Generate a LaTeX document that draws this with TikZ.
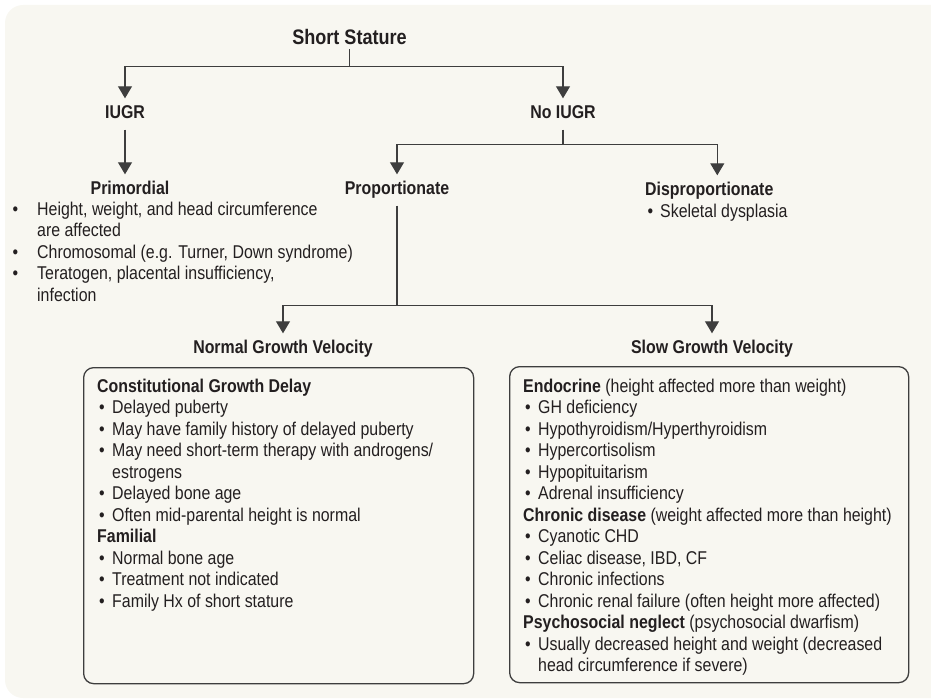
\documentclass[tikz,border=0pt]{standalone}
\usepackage{fontspec}
\setmainfont[FakeStretch=0.86]{Liberation Sans}
\usetikzlibrary{arrows.meta,positioning}
\definecolor{paper}{RGB}{248,247,241}
\definecolor{ink}{RGB}{35,31,32}
\definecolor{rule}{RGB}{62,62,62}
\newcommand{\bu}[1][15pt]{\makebox[#1][l]{\hspace{2pt}\textbullet}}
\newcommand{\cn}[1][15pt]{\hspace*{#1}}
\tikzset{
  head/.style     = {font=\fontsize{18.5}{21.5}\selectfont\bfseries, text=ink,
                     inner xsep=0pt, inner ysep=7pt, text height=13pt, text depth=4pt},
  toptitle/.style = {head, font=\fontsize{21}{24}\selectfont\bfseries,
                     inner ysep=0pt, text height=15pt, text depth=4.5pt},
  list/.style     = {font=\fontsize{18.5}{21.5}\selectfont, text=ink, align=left,
                     inner sep=0pt, anchor=north west, execute at begin node=\strut},
  panel/.style    = {draw=rule, line width=1.3pt, rounded corners=10pt,
                     anchor=north west, inner sep=0pt},
  wire/.style     = {draw=rule, line width=1.2pt},
  arr/.style      = {wire, -{Triangle[width=14pt,length=12pt]}},
}

\begin{document}
\begin{tikzpicture}[x=1pt,y=-1pt]
  \useasboundingbox (0,0) rectangle (931,700);
  \fill[paper, rounded corners=18pt] (5,5) rectangle (960,698);

  \node[toptitle, anchor=base] (short) at (349.5,44.5) {Short Stature};
  \node[head, anchor=base] (iugr) at (125,118.5) {IUGR};
  \node[head, anchor=base] (noiugr) at (563,118.5) {No IUGR};
  \node[head, anchor=base] (prim) at (130,194.5) {Primordial};
  \node[head, anchor=base] (prop) at (397,194.5) {Proportionate};
  \node[head, anchor=base west] (disp) at (645,195.5) {Disproportionate};
  \node[head, anchor=base] (ngv) at (283,353.5) {Normal Growth Velocity};
  \node[head, anchor=base] (sgv) at (712,353.5) {Slow Growth Velocity};

  \node[list] (primlist) at (10.5,201.5) {\bu[26.5pt]Height, weight, and head circumference\\
    \cn[26.5pt]are affected\\
    \bu[26.5pt]Chromosomal (e.g. Turner, Down syndrome)\\
    \bu[26.5pt]Teratogen, placental insufficiency,\\
    \cn[26.5pt]infection};
  \node[list, anchor=base west] (displist) at (645.5,217.5) {\bu[14.5pt]Skeletal dysplasia};

  \node[panel, minimum width=390pt, minimum height=316pt] (nbox) at (83,367) {};
  \node[panel, minimum width=399pt, minimum height=316pt] (sbox) at (509,366) {};

  \node[list] (nlist) at ([shift={(14,11.5)}]nbox.north west) {\textbf{Constitutional Growth Delay}\\
    \bu Delayed puberty\\
    \bu May have family history of delayed puberty\\
    \bu May need short-term therapy with androgens/\\
    \cn estrogens\\
    \bu Delayed bone age\\
    \bu Often mid-parental height is normal\\
    \textbf{Familial}\\
    \bu Normal bone age\\
    \bu Treatment not indicated\\
    \bu Family Hx of short stature};
  \node[list] (slist) at ([shift={(14,12.5)}]sbox.north west) {\textbf{Endocrine} (height affected more than weight)\\
    \bu GH deficiency\\
    \bu Hypothyroidism/Hyperthyroidism\\
    \bu Hypercortisolism\\
    \bu Hypopituitarism\\
    \bu Adrenal insufficiency\\
    \textbf{Chronic disease} (weight affected more than height)\\
    \bu Cyanotic CHD\\
    \bu Celiac disease, IBD, CF\\
    \bu Chronic infections\\
    \bu Chronic renal failure (often height more affected)\\
    \textbf{Psychosocial neglect} (psychosocial dwarfism)\\
    \bu Usually decreased height and weight (decreased\\
    \cn head circumference if severe)};

  \draw[wire] (short.south) -- ++(0,17) coordinate (split1);
  \draw[arr] (split1) -| (iugr.north);
  \draw[arr] (split1) -| (noiugr.north);
  \draw[arr] (iugr.south) -- (iugr.south |- prim.north);
  \draw[wire] (noiugr.south) -- ++(0,15) coordinate (split2);
  \draw[arr] (split2) -| (prop.north);
  \draw[arr] (split2) -| ([xshift=8pt]disp.north);
  \draw[wire] (prop.south) -- ++(0,100) coordinate (split3);
  \draw[arr] (split3) -| (ngv.north);
  \draw[arr] (split3) -| (sgv.north);
\end{tikzpicture}
\end{document}
